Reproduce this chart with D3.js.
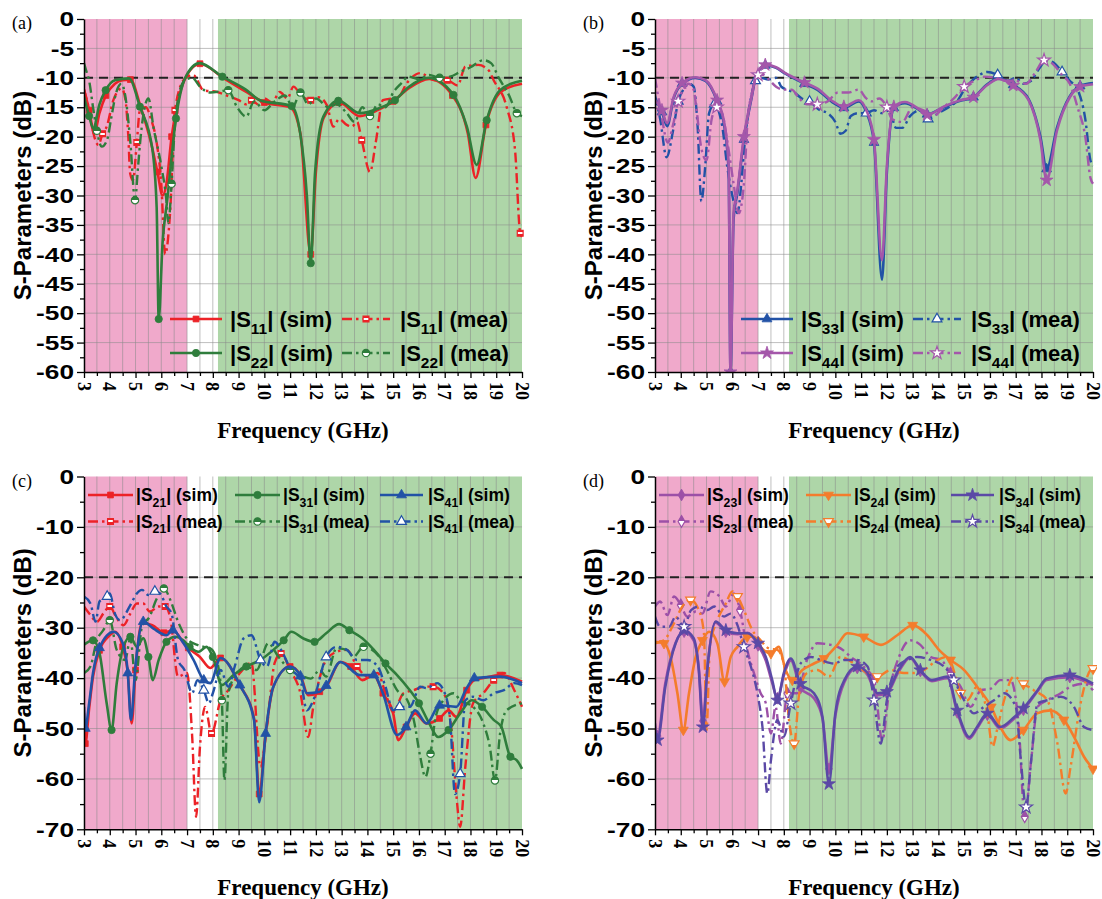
<!DOCTYPE html>
<html>
<head>
<meta charset="utf-8">
<script src="https://cdn.jsdelivr.net/npm/d3@7"></script>
<style>
  body { margin: 0; background: #fff; }
</style>
</head>
<body>
<svg id="fig" width="1102" height="899"></svg>
<script>
// tick values
const xTicks = d3.range(3, 21);
const yTicksTop = d3.range(0, -61, -5);
const yTicksBottom = d3.range(0, -71, -10);

// panel (a)
const s11Sim = [[3,-12],[3.2,-15.5],[3.4,-19.5],[3.6,-16],[3.85,-13],[4.2,-11],[4.5,-10.4],[4.8,-10.3],[5.2,-15],[5.6,-21],[5.85,-26],[6.05,-30],[6.2,-28],[6.4,-20],[6.7,-13],[7.0,-9.5],[7.5,-7.6],[8.4,-10],[9.3,-12.4],[10,-14.2],[11,-15],[11.4,-19.5],[11.8,-40],[12,-26],[12.3,-16.8],[12.9,-14.2],[13.7,-16.5],[14.4,-15.5],[15,-14],[15.6,-11.8],[16.4,-10.2],[17.3,-13],[17.9,-19.5],[18.2,-27],[18.6,-18],[19.2,-12.3],[20,-11]];
const s11Mea = [[3,-12],[3.23,-16],[3.4,-20],[3.56,-21.4],[3.72,-19.5],[3.88,-18.3],[4.14,-13.8],[4.46,-11.8],[4.6,-13.5],[4.72,-20],[4.79,-26.2],[4.9,-27.4],[5.05,-21],[5.17,-15.5],[5.4,-15],[5.6,-17],[5.82,-21],[6.0,-28],[6.15,-40],[6.34,-33],[6.53,-15.5],[6.9,-10.2],[7.24,-9.5],[7.63,-12.1],[8.15,-12.4],[8.6,-13.1],[9.0,-13.8],[9.3,-14.5],[9.5,-13.8],[9.8,-14.6],[10,-13.5],[10.3,-14.2],[10.6,-12.4],[10.9,-13.5],[11.13,-11.5],[11.4,-12.8],[11.8,-13.8],[12.1,-13.3],[12.42,-14.6],[12.68,-18.3],[12.9,-17],[13.2,-18],[13.4,-18.3],[13.6,-17.5],[13.78,-20.6],[14.1,-26],[14.33,-20.8],[14.6,-13.8],[15.2,-13.3],[15.53,-10.9],[16.05,-9.2],[16.6,-10.4],[17.1,-10.4],[17.5,-11.3],[17.8,-8.1],[18.3,-7.8],[18.7,-8.7],[18.9,-10.4],[19.4,-14.9],[19.73,-22.3],[19.93,-36.4],[20,-37]];
const s22Sim = [[3,-13.2],[3.2,-16.5],[3.36,-18.6],[3.6,-14.5],[3.84,-12.1],[4.2,-10.4],[4.75,-10.1],[5.17,-14.9],[5.65,-22],[5.82,-32],[5.9,-51],[6.05,-38],[6.23,-30.8],[6.57,-16.9],[6.92,-10.1],[7.48,-7.5],[8.37,-9.8],[9.28,-12],[9.83,-13.8],[11.06,-14.8],[11.39,-19.4],[11.65,-30],[11.8,-41.5],[11.97,-26],[12.29,-16.6],[12.87,-13.9],[13.71,-16],[14.43,-15.2],[15.07,-13.8],[15.59,-11.6],[16.37,-10],[17.34,-12.9],[17.86,-18.3],[18.24,-24.8],[18.63,-17.2],[19.15,-12.1],[20,-10.5]];
const s22Mea = [[3,-7.5],[3.1,-9],[3.2,-10.5],[3.35,-15],[3.5,-19],[3.69,-21.7],[3.9,-20.5],[4.05,-17],[4.25,-12.5],[4.45,-11],[4.6,-13],[4.8,-21],[4.98,-30.8],[5.1,-25],[5.2,-20],[5.5,-13.5],[5.7,-18.5],[6.0,-25],[6.2,-31],[6.27,-34.7],[6.4,-28],[6.5,-20],[6.7,-12.5],[6.9,-10.5],[7.2,-10],[7.5,-11.5],[7.9,-12.5],[8.3,-12.3],[8.6,-12.1],[8.93,-14.9],[9.3,-16.6],[9.6,-14],[10,-15.5],[10.4,-14],[10.8,-13],[11.1,-15],[11.4,-12.5],[11.7,-14.5],[12,-13.5],[12.5,-15],[12.8,-14.5],[13.2,-16],[13.5,-17.5],[13.8,-15],[14.1,-16.5],[14.4,-14.5],[14.7,-15],[15,-12.5],[15.3,-11],[15.6,-9.8],[16,-10.2],[16.4,-9.5],[16.8,-10],[17.2,-9.8],[17.6,-9],[18,-8.2],[18.5,-7],[18.8,-7.5],[19.1,-10],[19.5,-13],[19.8,-16],[20,-16.5]];

// panel (b)
const s33Sim = [[3,-13.5],[3.27,-15.8],[3.47,-18.2],[3.73,-13.4],[4.05,-11],[4.57,-10],[4.96,-10.5],[5.41,-14],[5.7,-18.5],[5.86,-26],[5.93,-60],[6.05,-34],[6.2,-29.5],[6.45,-20.5],[6.75,-13.4],[6.93,-9.6],[7.28,-7.9],[7.7,-8.3],[8.06,-9.3],[8.8,-11],[9.29,-12],[9.94,-14.3],[10.33,-15.1],[10.91,-14],[11.2,-15.8],[11.5,-21],[11.81,-44.3],[12.0,-26],[12.27,-15.1],[12.7,-14.3],[13.3,-15.6],[13.56,-16.2],[14.2,-15],[14.85,-13.9],[15.36,-13.3],[15.87,-11.2],[16.34,-10.1],[16.9,-11.2],[17.5,-13.6],[17.96,-20],[18.2,-25.5],[18.6,-18.5],[19.1,-13.1],[19.5,-11.4],[20,-10.9]];
const s33Mea = [[3,-13],[3.2,-17],[3.45,-23.5],[3.7,-19],[3.9,-14],[4.1,-12],[4.3,-11],[4.5,-11.5],[4.65,-18],[4.8,-31],[4.95,-25],[5.1,-16],[5.3,-14.5],[5.6,-18],[5.8,-25],[6.0,-30],[6.2,-33],[6.35,-28],[6.5,-20],[6.7,-14],[6.9,-10.5],[7.1,-10],[7.4,-10.3],[7.7,-10],[7.9,-11.5],[8.1,-12],[8.4,-12.5],[8.7,-13.5],[9.0,-14],[9.4,-15.5],[9.7,-16],[10.0,-17.5],[10.2,-19.5],[10.4,-19],[10.6,-16.5],[10.9,-16],[11.2,-16],[11.5,-15.5],[11.8,-16],[12.1,-15.5],[12.35,-18.5],[12.6,-18.5],[12.9,-16.5],[13.3,-15.5],[13.6,-17],[14,-16],[14.4,-15],[14.8,-13.5],[15.0,-12],[15.3,-10.5],[15.6,-9.5],[15.9,-9],[16.3,-9.5],[16.7,-10.5],[17.0,-10],[17.3,-11],[17.6,-10.5],[17.9,-8.5],[18.2,-7],[18.5,-7.5],[18.8,-9],[19.1,-10.5],[19.4,-12],[19.7,-17],[19.9,-24],[20,-25]];
const s44Sim = [[3,-13.8],[3.27,-15.5],[3.47,-17.7],[3.73,-13.2],[4.05,-10.9],[4.57,-9.9],[4.96,-10.4],[5.41,-13.8],[5.7,-18],[5.86,-25.1],[5.93,-60],[6.05,-33],[6.2,-29],[6.45,-20],[6.75,-13.2],[6.93,-9.5],[7.28,-7.8],[7.7,-8.2],[8.06,-9.2],[8.8,-10.8],[9.29,-11.8],[9.94,-14.1],[10.33,-14.9],[10.91,-13.8],[11.2,-15.5],[11.5,-20.5],[11.81,-41],[12.0,-25],[12.27,-14.9],[12.7,-14.1],[13.3,-15.5],[13.56,-16.3],[14.2,-14.9],[14.85,-13.8],[15.36,-13.3],[15.87,-11.3],[16.34,-10.2],[16.9,-11.3],[17.5,-13.8],[17.96,-20.6],[18.2,-27.4],[18.6,-19],[19.1,-13.3],[19.5,-11.5],[20,-11.1]];
const s44Mea = [[3,-10],[3.2,-15],[3.5,-21],[3.7,-18],[3.9,-14],[4.1,-12],[4.3,-11],[4.5,-12],[4.6,-15],[4.8,-22],[5.0,-24],[5.2,-17],[5.4,-15],[5.6,-16],[5.85,-22],[6.05,-28],[6.25,-33],[6.45,-28],[6.6,-17],[6.8,-12],[7.0,-9.5],[7.2,-9.5],[7.4,-10.2],[7.7,-11.5],[8.0,-12],[8.3,-12],[8.6,-13.5],[8.9,-14.5],[9.3,-14.5],[9.7,-14],[10.1,-12.5],[10.5,-12.5],[10.9,-12],[11.2,-13.5],[11.4,-14],[11.7,-13.5],[12.0,-15],[12.2,-17],[12.6,-17.5],[13,-15],[13.4,-15.5],[13.8,-16.5],[14.2,-15],[14.6,-13.5],[15,-11.5],[15.4,-10.5],[15.8,-9.8],[16.2,-10],[16.6,-10.5],[17,-10.5],[17.4,-11],[17.8,-8.8],[18.1,-7],[18.4,-7.5],[18.8,-9.5],[19.1,-11],[19.4,-15],[19.7,-20],[19.9,-27],[20,-28]];

// panel (c)
const s21Sim = [[3,-47],[3.05,-53],[3.2,-46],[3.35,-39.7],[3.6,-34.5],[4.0,-31.5],[4.2,-30.8],[4.5,-33.8],[4.7,-39],[4.85,-49],[5.0,-38.4],[5.25,-29.1],[5.65,-29.5],[6.1,-31],[6.45,-30.5],[6.8,-32.5],[7.05,-34],[7.5,-35.8],[7.9,-38],[8.3,-36],[9.05,-41.4],[9.6,-48],[9.8,-63],[10.05,-51],[10.35,-41.7],[11.0,-37.7],[11.4,-39.4],[11.7,-43.4],[12.15,-42.7],[12.4,-41.7],[12.95,-36.8],[13.35,-37.7],[13.8,-40.4],[14.25,-39.4],[14.6,-43],[15.0,-47],[15.2,-52.3],[15.5,-49.7],[15.85,-47],[16.3,-49],[16.8,-48],[17.15,-46.4],[17.45,-47.7],[17.85,-42.4],[18.15,-40.4],[18.5,-40],[19.15,-39.4],[20,-40.7]];
const s21Mea = [[3,-25.8],[3.25,-27.5],[3.5,-28.8],[3.75,-27.2],[4.0,-25.8],[4.27,-28.1],[4.53,-29.5],[4.8,-27.2],[5.05,-25.2],[5.3,-25.2],[5.55,-26.8],[5.9,-25.8],[6.15,-25.8],[6.35,-28.1],[6.65,-39.7],[7.0,-39],[7.2,-51.7],[7.35,-67.5],[7.5,-53.7],[7.7,-45.7],[7.95,-51],[8.3,-44.4],[8.6,-42.4],[9.05,-39],[9.5,-37],[9.85,-57.6],[10.1,-49.7],[10.4,-37],[10.65,-35.1],[11.0,-38.4],[11.4,-43],[11.7,-51.7],[11.9,-45.7],[12.4,-36.4],[12.8,-34.8],[13.2,-34.4],[13.6,-37.7],[14.0,-39.7],[14.4,-39],[14.7,-43],[15.0,-46.7],[15.4,-43],[15.8,-42.4],[16.2,-41.7],[16.55,-41.7],[16.95,-43],[17.25,-49.7],[17.45,-63],[17.6,-69.5],[17.8,-57.6],[18.1,-45],[18.5,-43],[18.9,-40.4],[19.3,-39],[19.7,-42.4],[20,-45.7]];
const s31Sim = [[3,-33.4],[3.35,-32.5],[3.6,-35],[3.88,-45],[4.07,-50.3],[4.27,-41],[4.53,-33.8],[4.8,-31.8],[5.05,-33.8],[5.3,-32.1],[5.5,-35.8],[5.67,-40.4],[5.9,-36.4],[6.2,-32.8],[6.55,-31.8],[6.85,-32.5],[7.1,-33.8],[7.45,-34.8],[7.75,-33.8],[8.0,-35.8],[8.35,-41.4],[8.8,-39.4],[9.3,-37.7],[9.85,-36.4],[10.35,-34.4],[10.75,-32.5],[11.05,-30.8],[11.5,-32.1],[11.95,-32.8],[12.4,-31.1],[12.9,-29.3],[13.3,-30.5],[13.8,-32.1],[14.25,-34.4],[14.7,-37.1],[15.15,-39.4],[15.6,-42.1],[16.0,-45],[16.4,-49],[16.75,-51.7],[17.15,-50.3],[17.6,-47],[18.05,-44.4],[18.45,-45.7],[18.9,-48.3],[19.2,-49.7],[19.55,-55.6],[19.8,-56.3],[20,-58]];
const s31Mea = [[3,-39],[3.25,-37.7],[3.5,-32.5],[3.75,-30.5],[4.0,-28.5],[4.27,-34.4],[4.6,-36.4],[4.8,-32.1],[5.0,-40.4],[5.25,-29.8],[5.55,-27.8],[5.8,-24.5],[6.1,-22.2],[6.35,-24.5],[6.65,-28.8],[7.05,-32.5],[7.4,-33.4],[7.65,-33.8],[7.9,-34.1],[8.15,-36.4],[8.35,-44.4],[8.45,-60.3],[8.6,-43],[8.95,-39],[9.3,-37.7],[9.7,-38.4],[10.15,-33.1],[10.55,-35.8],[11.0,-38.4],[11.4,-39.4],[11.8,-40.1],[12.15,-38.4],[12.4,-39.7],[12.8,-34.1],[13.2,-34.4],[13.45,-35.8],[13.85,-33.8],[14.4,-35.4],[14.75,-38.4],[15.15,-42.4],[15.55,-44.4],[15.8,-48.3],[16.05,-55.6],[16.25,-59.6],[16.45,-55],[16.65,-47.7],[16.95,-44.4],[17.35,-43],[17.6,-44.4],[18.1,-45.7],[18.5,-49],[18.75,-53.6],[18.95,-60.3],[19.15,-51],[19.4,-46.4],[20,-45]];
const s41Sim = [[3,-45.7],[3.05,-50],[3.2,-45],[3.35,-39],[3.6,-34],[4.15,-30.8],[4.5,-33],[4.7,-39],[4.82,-48.3],[5.0,-37.4],[5.3,-28.8],[5.7,-30.2],[6.2,-31.5],[6.45,-30.5],[6.85,-33],[7.25,-36.4],[7.65,-40.4],[7.9,-41],[8.3,-36],[9.05,-41.4],[9.6,-48.3],[9.8,-64.6],[10.05,-51],[10.35,-41.7],[11.0,-37.7],[11.4,-39.6],[11.65,-43],[12.15,-42.7],[12.4,-41.5],[12.95,-36.8],[13.7,-39.4],[14.25,-39.4],[14.6,-43],[15.15,-51.3],[15.5,-49.7],[15.85,-46.4],[16.3,-49],[16.8,-45.4],[17.45,-45.7],[17.85,-42],[18.15,-40],[19.15,-39.7],[20,-41]];
const s41Mea = [[3,-23.8],[3.25,-25.2],[3.45,-28.8],[3.6,-24.8],[3.9,-23.8],[4.0,-23.2],[4.2,-27.2],[4.4,-28.5],[4.8,-25.5],[5.05,-23.2],[5.25,-22.5],[5.5,-23.5],[5.75,-22.8],[5.95,-23.2],[6.2,-25.8],[6.4,-27.2],[6.65,-36.4],[6.9,-38.4],[7.2,-43],[7.4,-40.4],[7.65,-42.4],[7.85,-45],[8.0,-43],[8.3,-38.4],[8.6,-41.7],[8.85,-37.7],[9.2,-32.1],[9.5,-31.5],[9.85,-36.4],[10.1,-37.7],[10.4,-32.8],[10.65,-34.4],[11.0,-38],[11.4,-40.4],[11.65,-46.4],[11.9,-44.4],[12.4,-35.8],[12.8,-33.8],[13.2,-34.4],[13.6,-36.4],[14.0,-36.4],[14.4,-37.7],[14.7,-41.7],[15.0,-46.4],[15.25,-45.7],[15.65,-45.7],[16.05,-41.7],[16.3,-42],[16.7,-41],[16.95,-42.4],[17.2,-47.7],[17.4,-63],[17.6,-59],[17.8,-44.4],[18.1,-43.7],[18.5,-44.4],[18.9,-43],[19.3,-42.4],[19.7,-41],[20,-41.4]];

// panel (d)
const s23Sim = [[3,-49],[3.1,-51.5],[3.4,-41],[3.8,-33],[4.13,-30.8],[4.5,-32.5],[4.7,-38],[4.86,-48.5],[5.03,-38],[5.35,-29],[5.75,-30.8],[6.2,-31.3],[6.6,-31],[7.0,-33.5],[7.3,-36.5],[7.55,-41],[7.75,-44],[8.0,-39.5],[8.27,-36.5],[8.65,-42],[9.17,-44],[9.5,-48],[9.75,-58],[10.0,-47.5],[10.35,-40.8],[10.85,-38],[11.25,-39.4],[11.63,-43.4],[12.0,-43],[12.45,-38.8],[12.9,-36],[13.3,-38.6],[13.75,-40.6],[14.35,-40],[14.73,-46.8],[15.2,-52],[15.5,-50],[15.9,-47.3],[16.4,-50],[16.95,-48],[17.3,-46.3],[17.85,-42.6],[18.2,-40.4],[19.1,-39.8],[20,-41.4]];
const s23Mea = [[3,-25.8],[3.2,-24.8],[3.48,-27.5],[3.74,-23.8],[4.0,-25.5],[4.25,-27.8],[4.58,-26.8],[4.84,-27.2],[5.16,-22.8],[5.5,-23.8],[5.75,-25.8],[6.06,-23.2],[6.3,-26.5],[6.58,-34.4],[6.84,-39],[7.1,-43],[7.3,-45],[7.5,-51],[7.68,-45.7],[7.88,-53],[8.14,-43],[8.52,-43],[8.9,-36.4],[9.3,-33.1],[9.82,-33.4],[10.2,-34.1],[10.6,-35.8],[11.1,-37.7],[11.5,-40.4],[11.82,-52.3],[12.08,-43],[12.47,-35.8],[12.9,-32.5],[13.3,-33.4],[13.7,-35.8],[14.1,-36.4],[14.47,-39],[14.86,-41.7],[15.25,-45.7],[15.65,-42.4],[16.03,-42.1],[16.4,-40.4],[16.8,-40.4],[17.12,-49.7],[17.35,-67.5],[17.6,-56.3],[17.85,-45.7],[18.23,-44.4],[18.75,-43],[19.13,-41.7],[19.65,-41.1],[20,-42.4]];
const s24Sim = [[3,-32.8],[3.35,-33.1],[3.6,-35.8],[3.87,-43],[4.1,-50.3],[4.32,-43],[4.58,-35.8],[4.84,-32.5],[5.1,-30.8],[5.42,-33.1],[5.7,-40.7],[5.94,-35.8],[6.2,-33.8],[6.58,-31.8],[6.85,-31.8],[7.1,-33.8],[7.5,-35.1],[7.8,-33.8],[8.07,-38.4],[8.33,-40.4],[8.72,-38.4],[9.17,-37.1],[9.56,-36.1],[10.08,-33.4],[10.46,-31.1],[11.1,-31.8],[11.77,-33.4],[12.4,-31.5],[13.0,-29.5],[13.57,-31.5],[14.02,-34.4],[14.47,-36.4],[15.0,-38.4],[15.5,-41.7],[16.05,-45.7],[16.4,-49.7],[16.8,-52.3],[17.3,-50.3],[17.83,-47],[18.35,-46.4],[18.87,-48.3],[19.33,-52.3],[19.65,-55.6],[20,-58]];
const s24Mea = [[3,-33.1],[3.35,-32.5],[3.74,-29.1],[4.06,-25.8],[4.38,-24.5],[4.7,-26.5],[4.9,-31.1],[5.0,-50.3],[5.13,-33.8],[5.42,-28.5],[5.75,-25.2],[6.0,-22.8],[6.2,-23.8],[6.45,-26.5],[6.78,-30.5],[7.1,-32.5],[7.42,-34.1],[7.75,-34.4],[8.0,-37.1],[8.2,-48.3],[8.4,-53],[8.6,-43],[8.9,-39],[9.3,-38.4],[9.75,-39.7],[10.2,-35.8],[10.72,-37.1],[11.24,-39],[11.63,-39.7],[12.15,-38.4],[12.66,-39],[13.05,-39],[13.44,-38.4],[13.96,-36.4],[14.35,-35.8],[14.67,-39.7],[14.86,-43],[15.12,-44.4],[15.5,-41.7],[15.9,-47],[16.1,-53.6],[16.3,-49.7],[16.55,-44.4],[16.93,-39.7],[17.3,-41.1],[17.7,-42.4],[18.23,-44.4],[18.62,-53],[18.94,-62.9],[19.13,-57.6],[19.52,-45],[19.9,-38.4],[20,-38.1]];
const s34Sim = [[3,-50.3],[3.1,-52.3],[3.4,-41.7],[3.8,-33.1],[4.13,-30.5],[4.5,-32.1],[4.7,-38.4],[4.86,-49.7],[5.03,-38.4],[5.35,-28.8],[5.75,-30.5],[6.2,-31.1],[6.6,-31.1],[7.0,-33.1],[7.3,-35.8],[7.55,-40.4],[7.75,-44.4],[8.0,-39],[8.27,-36.1],[8.65,-41.1],[9.17,-43],[9.5,-47.7],[9.75,-61],[10.0,-47],[10.35,-40.4],[10.85,-37.7],[11.25,-39],[11.63,-43],[12.0,-42.7],[12.45,-38.4],[12.9,-35.8],[13.3,-38.4],[13.75,-40.4],[14.35,-39.7],[14.73,-46.4],[15.2,-51.7],[15.5,-49.7],[15.9,-47],[16.4,-49.7],[16.95,-47.7],[17.3,-46],[17.85,-42.4],[18.2,-40.1],[19.1,-39.4],[20,-41.1]];
const s34Mea = [[3,-27.8],[3.2,-29.8],[3.55,-29.8],[3.8,-27.8],[4.13,-29.8],[4.4,-26.5],[4.7,-25.8],[5.03,-26.5],[5.3,-25.8],[5.68,-27.8],[5.94,-27.2],[6.2,-29.5],[6.45,-33.8],[6.72,-37.7],[7.0,-43.7],[7.17,-49.7],[7.36,-62.9],[7.5,-56.3],[7.75,-48.3],[8.0,-51.6],[8.27,-45],[8.65,-37.1],[9.05,-35.8],[9.43,-36.4],[9.95,-37.1],[10.35,-36.4],[10.85,-36.4],[11.25,-37.7],[11.5,-44.4],[11.76,-53],[12.0,-44.4],[12.4,-37.7],[12.8,-36.4],[13.18,-35.8],[13.7,-36.4],[14.22,-37.7],[14.6,-40.4],[15.0,-44.4],[15.38,-47],[15.77,-45.7],[16.16,-44.4],[16.55,-43],[17.0,-45.7],[17.2,-56.3],[17.4,-65.6],[17.6,-56.3],[17.85,-45],[18.23,-44.4],[18.75,-43.7],[19.26,-45.7],[19.65,-49.7],[20,-50.3]];

// colours
const red = '#ec2227', green = '#2f7d3c', blue = '#2252a6', violet = '#a457aa',
  purple = '#9c50a7', orange = '#f47c2c', indigo = '#5b49a6';
const pinkBand = '#f0a9cb', greenBand = '#aed6a8';
const sans = '"Liberation Sans", Arial, sans-serif',
  serif = '"Liberation Serif", "Times New Roman", serif';

const panels = [
  {tag: '(a)', left: 84, top: 19, height: 353, yMin: -60, major: yTicksTop, minorStep: 2.5, ref: -10, legend: 'big',
    series: [
      {data: s11Sim, color: red, shape: 'square', sub: '11', mea: false},
      {data: s11Mea, color: red, shape: 'square', sub: '11', mea: true},
      {data: s22Sim, color: green, shape: 'circle', sub: '22', mea: false},
      {data: s22Mea, color: green, shape: 'circle', sub: '22', mea: true}
    ]},
  {tag: '(b)', left: 655, top: 19, height: 353, yMin: -60, major: yTicksTop, minorStep: 2.5, ref: -10, legend: 'big',
    series: [
      {data: s33Sim, color: blue, shape: 'triangle', sub: '33', mea: false},
      {data: s33Mea, color: blue, shape: 'triangle', sub: '33', mea: true},
      {data: s44Sim, color: violet, shape: 'star', sub: '44', mea: false},
      {data: s44Mea, color: violet, shape: 'star', sub: '44', mea: true}
    ]},
  {tag: '(c)', left: 84, top: 476.5, height: 352.8, yMin: -70, major: yTicksBottom, minorStep: 5, ref: -20, legend: 'small',
    series: [
      {data: s21Sim, color: red, shape: 'square', sub: '21', mea: false},
      {data: s21Mea, color: red, shape: 'square', sub: '21', mea: true},
      {data: s31Sim, color: green, shape: 'circle', sub: '31', mea: false},
      {data: s31Mea, color: green, shape: 'circle', sub: '31', mea: true},
      {data: s41Sim, color: blue, shape: 'triangle', sub: '41', mea: false},
      {data: s41Mea, color: blue, shape: 'triangle', sub: '41', mea: true}
    ]},
  {tag: '(d)', left: 655, top: 476.5, height: 352.8, yMin: -70, major: yTicksBottom, minorStep: 5, ref: -20, legend: 'small',
    series: [
      {data: s23Sim, color: purple, shape: 'diamond', sub: '23', mea: false},
      {data: s23Mea, color: purple, shape: 'diamond', sub: '23', mea: true},
      {data: s24Sim, color: orange, shape: 'down', sub: '24', mea: false},
      {data: s24Mea, color: orange, shape: 'down', sub: '24', mea: true},
      {data: s34Sim, color: indigo, shape: 'star', sub: '34', mea: false},
      {data: s34Mea, color: indigo, shape: 'star', sub: '34', mea: true}
    ]}
];

const legendLayouts = {
  big: {fs: 22, rows: [300, 334], pos: (i) => [i % 2, Math.floor(i / 2)],
    cols: [{a: 86, b: 138, t: 146}, {a: 258, b: 306, t: 316}]},
  small: {fs: 17.5, rows: [18.5, 45], pos: (i) => [Math.floor(i / 2), i % 2],
    cols: [{a: 4, b: 49, t: 52}, {a: 151, b: 196, t: 199}, {a: 296, b: 339, t: 344}]}
};

const svg = d3.select('#fig');
const defs = svg.append('defs');
const shapes = {square: d3.symbolSquare, circle: d3.symbolCircle, triangle: d3.symbolTriangle,
  star: d3.symbolStar, diamond: d3.symbolDiamond, down: d3.symbolTriangle};
const markerSize = {square: 34, circle: 42, triangle: 42, star: 52, diamond: 40, down: 42};
const gradCache = {};

// half filled markers for the measured curves
function meaFill(s) {
  if (s.shape === 'triangle' || s.shape === 'star') return '#fff';
  const key = s.color.slice(1) + (s.shape === 'square' ? 'm' : 't');
  if (!gradCache[key]) {
    const lg = defs.append('linearGradient').attr('id', 'g' + key)
      .attr('x1', 0).attr('y1', 0).attr('x2', 0).attr('y2', 1);
    const stops = s.shape === 'square'
      ? [[0, s.color], [0.3, s.color], [0.3, '#fff'], [0.65, '#fff'], [0.65, s.color], [1, s.color]]
      : [[0, s.color], [0.5, s.color], [0.5, '#fff'], [1, '#fff']];
    stops.forEach((st) => lg.append('stop').attr('offset', st[0]).attr('stop-color', st[1]));
    gradCache[key] = 'url(#g' + key + ')';
  }
  return gradCache[key];
}

function drawMarker(sel, s, cx, cy) {
  sel.append('path')
    .attr('d', d3.symbol(shapes[s.shape], markerSize[s.shape])())
    .attr('transform', 'translate(' + cx + ',' + cy + ')' + (s.shape === 'down' ? ' rotate(180)' : ''))
    .attr('fill', s.mea ? meaFill(s) : s.color)
    .attr('stroke', s.color)
    .attr('stroke-width', s.mea ? 1.2 : 0.8);
}

function styleLine(sel, s) {
  sel.attr('fill', 'none')
    .attr('stroke', s.color)
    .attr('stroke-width', s.mea ? 2.4 : 2.6)
    .attr('stroke-dasharray', s.mea ? '10,4,2.5,4' : null);
}

function drawPanel(p, idx) {
  const x = d3.scaleLinear().domain([3, 20]).range([p.left, p.left + 438]),
    y = d3.scaleLinear().domain([p.yMin, 0]).range([p.top + p.height, p.top]),
    g = svg.append('g');

  // frequency bands
  g.append('rect').attr('x', x(3)).attr('y', y(0))
    .attr('width', x(7) - x(3)).attr('height', y(p.yMin) - y(0)).attr('fill', pinkBand);
  g.append('rect').attr('x', x(8.2)).attr('y', y(0))
    .attr('width', x(20) - x(8.2)).attr('height', y(p.yMin) - y(0)).attr('fill', greenBand);

  // grid
  g.append('g').selectAll('line').data(d3.range(3.5, 19.9, 0.5)).enter().append('line')
    .attr('x1', (d) => x(d)).attr('x2', (d) => x(d))
    .attr('y1', y(0)).attr('y2', y(p.yMin))
    .attr('stroke', '#8a8a8a').attr('stroke-opacity', 0.55).attr('stroke-width', 1);
  g.append('g').selectAll('line').data(p.major.filter((d) => d < 0 && d > p.yMin)).enter().append('line')
    .attr('x1', x(3)).attr('x2', x(20))
    .attr('y1', (d) => y(d)).attr('y2', (d) => y(d))
    .attr('stroke', '#8a8a8a').attr('stroke-opacity', 0.55).attr('stroke-width', 1);

  // reference level
  g.append('line')
    .attr('x1', x(3)).attr('x2', x(20)).attr('y1', y(p.ref)).attr('y2', y(p.ref))
    .attr('stroke', '#222').attr('stroke-width', 2).attr('stroke-dasharray', '9,6');

  // curves
  defs.append('clipPath').attr('id', 'clip' + idx).append('rect')
    .attr('x', x(3)).attr('y', y(0) - 6).attr('width', x(20) - x(3) + 4).attr('height', y(p.yMin) - y(0) + 6);
  const cg = g.append('g').attr('clip-path', 'url(#clip' + idx + ')');
  const line = d3.line().x((d) => x(d[0])).y((d) => y(d[1])).curve(d3.curveMonotoneX);
  p.series.forEach((s) => {
    cg.append('path').attr('d', line(s.data)).call(styleLine, s);
    const step = s.mea ? 8 : 3, start = s.mea ? 4 : 1;
    const mg = cg.append('g');
    s.data.forEach((d, i) => {
      if (i >= start && (i - start) % step === 0) drawMarker(mg, s, x(d[0]), y(d[1]));
    });
  });

  // axes
  const minor = d3.range(-p.minorStep, p.yMin - 0.1, -p.minorStep).filter((d) => p.major.indexOf(d) < 0);
  const yAxis = g.append('g').attr('transform', 'translate(' + x(3) + ',0)')
    .call(d3.axisLeft(y).tickValues(p.major).tickSize(7).tickSizeOuter(0).tickPadding(3).tickFormat((d) => String(d)));
  yAxis.append('g').call(d3.axisLeft(y).tickValues(minor).tickSize(4).tickFormat(''))
    .select('.domain').remove();
  yAxis.selectAll('text').style('font', 'bold 21px ' + sans).attr('fill', '#000')
    .each(function() {
      const w = this.getComputedTextLength();
      d3.select(this).attr('textLength', w * 1.25).attr('lengthAdjust', 'spacingAndGlyphs');
    });
  const xAxis = g.append('g').attr('transform', 'translate(0,' + y(p.yMin) + ')')
    .call(d3.axisBottom(x).tickValues(xTicks).tickSize(6).tickSizeOuter(0).tickFormat((d) => String(d)));
  xAxis.append('g').call(d3.axisBottom(x).tickValues(d3.range(3.5, 20, 1)).tickSize(4).tickFormat(''))
    .select('.domain').remove();
  xAxis.selectAll('text')
    .attr('transform', 'rotate(90)').attr('x', 10).attr('y', 0).attr('dy', '0.38em')
    .style('text-anchor', 'start').style('font', 'bold 18px ' + serif).attr('fill', '#000');
  g.selectAll('.domain').attr('stroke', '#000').attr('stroke-width', 1.5);
  g.selectAll('.tick line').attr('stroke', '#000').attr('stroke-width', 1.3);

  // titles
  g.append('text')
    .attr('transform', 'translate(' + (p.left - 61) + ',' + (p.top + p.height / 2) + ') rotate(-90)')
    .attr('text-anchor', 'middle').attr('dy', '0.35em')
    .style('font', 'bold 24px ' + sans).text('S-Parameters (dB)');
  g.append('text')
    .attr('x', (x(3) + x(20)) / 2).attr('y', p.top + p.height + 66)
    .attr('text-anchor', 'middle')
    .style('font', 'bold 23px ' + serif).text('Frequency (GHz)');
  g.append('text')
    .attr('x', p.left - 72).attr('y', p.top + 10)
    .style('font', '18px ' + serif).text(p.tag);

  // legend
  const lay = legendLayouts[p.legend], lg = g.append('g');
  p.series.forEach((s, i) => {
    const pos = lay.pos(i), col = lay.cols[pos[0]], ly = p.top + lay.rows[pos[1]];
    lg.append('line')
      .attr('x1', p.left + col.a).attr('x2', p.left + col.b).attr('y1', ly).attr('y2', ly)
      .call(styleLine, s);
    drawMarker(lg, s, p.left + (col.a + col.b) / 2, ly);
    const t = lg.append('text').attr('x', p.left + col.t).attr('y', ly + lay.fs * 0.36)
      .style('font', 'bold ' + lay.fs + 'px ' + sans);
    t.append('tspan').text('|S');
    t.append('tspan').attr('dy', lay.fs * 0.3).style('font-size', (lay.fs * 0.7) + 'px').text(s.sub);
    t.append('tspan').attr('dy', -lay.fs * 0.3).text('| (' + (s.mea ? 'mea' : 'sim') + ')');
  });
}

panels.forEach(drawPanel);
</script>
</body>
</html>
